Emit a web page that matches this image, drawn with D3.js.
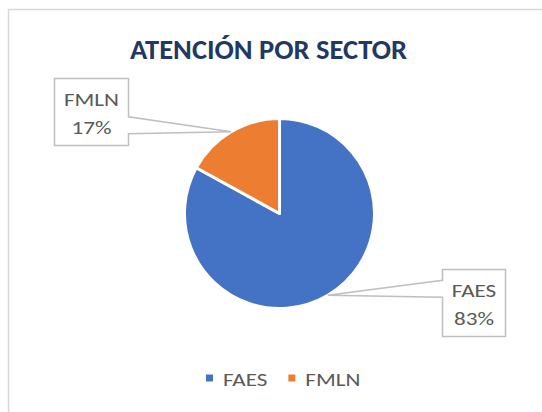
<!DOCTYPE html>
<html>
<head>
<meta charset="utf-8">
<script src="https://cdn.jsdelivr.net/npm/d3@7"></script>
<style>
  html, body { margin: 0; padding: 0; background: #fff; }
  svg { display: block; }
  text { font-family: Carlito, Lato, "Open Sans", sans-serif; }
</style>
</head>
<body>
<svg id="chart" width="542" height="412"></svg>
<script>
// data
var titleText = "ATENCIÓN POR SECTOR";
var sectors = ["FAES", "FMLN"];
var shares = [83, 17];
var colors = ["#4472C4", "#ED7D31"];

var width = 542, height = 412;
var svg = d3.select("#chart");

// chart frame (cut off at right and bottom like the reference)
svg.append("rect")
    .attr("x", 8.5).attr("y", 9.5)
    .attr("width", 560).attr("height", 430)
    .attr("fill", "#fff")
    .attr("stroke", "#d9d9d9")
    .attr("stroke-width", 1.5);

function measure(str, size, weight) {
    var t = svg.append("text").attr("font-size", size).attr("font-weight", weight || "normal").text(str);
    var w = t.node().getComputedTextLength();
    t.remove();
    return w;
}

// Lato is wider than Calibri: keep the letter height, squeeze the width
var labelSize = 18.5;
var squeeze = 55 / measure("FMLN", labelSize);

function addText(parent, str, x, y, anchor) {
    return parent.append("text")
        .attr("x", x).attr("y", y)
        .attr("text-anchor", anchor || "start")
        .attr("font-size", labelSize)
        .attr("fill", "#595959")
        .attr("textLength", measure(str, labelSize) * squeeze)
        .attr("lengthAdjust", "spacingAndGlyphs")
        .text(str);
}

// title
svg.append("text")
    .attr("x", 268.5).attr("y", 59)
    .attr("text-anchor", "middle")
    .attr("font-size", 27.5)
    .attr("font-weight", "bold")
    .attr("fill", "#1F3864")
    .attr("textLength", 277)
    .attr("lengthAdjust", "spacingAndGlyphs")
    .text(titleText);

// pie
var cx = 279.5, cy = 213.5, radius = 95;
var data = sectors.map(function(s, i) { return {name: s, value: shares[i], color: colors[i]}; });

var pie = d3.pie().sort(null).value(function(d) { return d.value; });
var arc = d3.arc().innerRadius(0).outerRadius(radius);
var arcs = pie(data);

var g = svg.append("g").attr("transform", "translate(" + cx + "," + cy + ")");
g.selectAll("path.slice")
    .data(arcs)
    .enter().append("path")
    .attr("class", "slice")
    .attr("d", arc)
    .attr("fill", function(d) { return d.data.color; })
    .attr("stroke", "#fff")
    .attr("stroke-width", 3)
    .attr("stroke-linejoin", "round");

// data label callouts
var lineGap = 28;
var labelCenters = {FAES: [473, 302.5], FMLN: [91, 111.5]};

arcs.forEach(function(d) {
    var mid = (d.startAngle + d.endAngle) / 2;
    var tipX = cx + radius * Math.sin(mid);
    var tipY = cy - radius * Math.cos(mid);
    var lines = [d.data.name, Math.round(d.data.value) + "%"];

    var lg = svg.append("g");
    var tw = d3.max(lines, function(l) { return measure(l, labelSize) * squeeze; });
    var bw = Math.round(tw + 19), bh = 67;
    var c = labelCenters[d.data.name];
    var x0 = Math.round(c[0] - bw / 2) + 0.5, y0 = Math.round(c[1] - bh / 2) + 0.5;
    var x1 = x0 + bw, y1 = y0 + bh;
    var b0 = Math.max(y0 + 4, tipY - 15), b1 = Math.min(y1 - 4, tipY + 2);

    var p = d3.path();
    if (tipX > x1) {
        // wedge on the right side
        p.moveTo(x0, y0); p.lineTo(x1, y0); p.lineTo(x1, b0);
        p.lineTo(tipX, tipY); p.lineTo(x1, b1); p.lineTo(x1, y1);
        p.lineTo(x0, y1); p.closePath();
    } else {
        // wedge on the left side
        p.moveTo(x0, y0); p.lineTo(x1, y0); p.lineTo(x1, y1);
        p.lineTo(x0, y1); p.lineTo(x0, b1); p.lineTo(tipX, tipY);
        p.lineTo(x0, b0); p.closePath();
    }
    lg.append("path")
        .attr("d", p.toString())
        .attr("fill", "#fff")
        .attr("stroke", "#bfbfbf")
        .attr("stroke-width", 1.5);

    lines.forEach(function(l, i) {
        addText(lg, l, (x0 + x1) / 2, c[1] - 6 + i * lineGap, "middle");
    });
});

// legend
var legend = svg.append("g");
var lx = 206, ly = 385.5;
data.forEach(function(d) {
    legend.append("rect")
        .attr("x", lx).attr("y", ly - 11)
        .attr("width", 7).attr("height", 7)
        .attr("fill", d.color);
    var t = addText(legend, d.name, lx + 17, ly);
    lx += 17 + measure(d.name, labelSize) * squeeze + 21;
});
</script>
</body>
</html>
